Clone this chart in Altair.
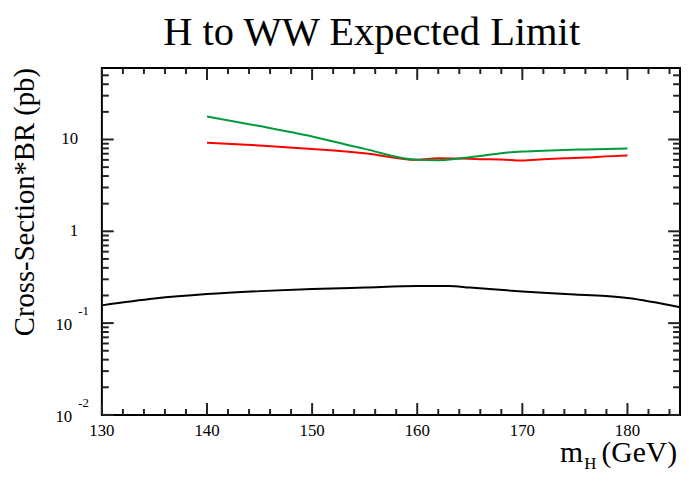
import altair as alt
import pandas as pd

# ---- data ----
mass_sm = [130, 135, 140, 145, 150, 155, 160, 163, 165, 170, 175, 180, 185]
xs_sm = [0.156, 0.185, 0.207, 0.223, 0.235, 0.244, 0.253, 0.254, 0.244, 0.221, 0.205, 0.188, 0.149]

mass_lim = [140, 145, 150, 155, 160, 162, 164, 166, 168, 170, 172, 174, 176, 178, 180]
lim_red = [9.2, 8.6, 7.9, 7.1, 6.0, 6.25, 6.2, 6.1, 6.05, 5.9, 6.1, 6.25, 6.35, 6.55, 6.7]
lim_green = [17.8, 14.0, 10.8, 7.9, 6.0, 5.95, 6.2, 6.6, 7.1, 7.4, 7.55, 7.7, 7.8, 7.9, 8.0]

x_major = [130, 140, 150, 160, 170, 180]
x_minor = [132, 134, 136, 138, 142, 144, 146, 148, 152, 154, 156, 158,
           162, 164, 166, 168, 172, 174, 176, 178, 182, 184]
x_labels = ["130", "140", "150", "160", "170", "180"]

y_major = [0.01, 0.1, 1, 10]
y_minor = [0.02, 0.03, 0.04, 0.05, 0.06, 0.07, 0.08, 0.09,
           0.2, 0.3, 0.4, 0.5, 0.6, 0.7, 0.8, 0.9,
           2, 3, 4, 5, 6, 7, 8, 9,
           20, 30, 40, 50]
y_plain_vals = [1, 10]
y_plain_text = ["1", "10"]
y_pow_vals = [0.01, 0.1]
y_pow_base = ["10", "10"]
y_pow_exp = ["-2", "-1"]

title_text = ["H to WW Expected Limit"]
ytitle_text = ["Cross-Section*BR (pb)"]

# ---- layout ----
W, H = 585, 351
FONT = "Liberation Serif"
TICK_COLOR = "#222222"
TICK_W = 2
xs = alt.Scale(domain=[130, 185], nice=False, zero=False)
ys = alt.Scale(type="log", domain=[0.01, 60], nice=False)


def X(f):
    return alt.X(f, type="quantitative", scale=xs, axis=None)


def Y(f):
    return alt.Y(f, type="quantitative", scale=ys, axis=None)


df_sm = pd.DataFrame({"m": mass_sm, "xs": xs_sm})
df_lim = pd.DataFrame({"m": mass_lim, "red": lim_red, "green": lim_green})

line_sm = alt.Chart(df_sm).mark_line(color="black", strokeWidth=2, interpolate="monotone").encode(
    x=X("m"), y=Y("xs"))
line_red = alt.Chart(df_lim).mark_line(color="#ff0000", strokeWidth=2, interpolate="monotone").encode(
    x=X("m"), y=Y("red"))
line_green = alt.Chart(df_lim).mark_line(color="#00993d", strokeWidth=2, interpolate="monotone").encode(
    x=X("m"), y=Y("green"))

t1 = alt.Chart(pd.DataFrame({"xb1": x_major})).mark_rule(color=TICK_COLOR, strokeWidth=TICK_W).encode(
    x=X("xb1"), y=alt.value(H), y2=alt.value(H - 12))
t2 = alt.Chart(pd.DataFrame({"xb2": x_minor})).mark_rule(color=TICK_COLOR, strokeWidth=TICK_W).encode(
    x=X("xb2"), y=alt.value(H), y2=alt.value(H - 6))
t3 = alt.Chart(pd.DataFrame({"xt1": x_major})).mark_rule(color=TICK_COLOR, strokeWidth=TICK_W).encode(
    x=X("xt1"), y=alt.value(0), y2=alt.value(12))
t4 = alt.Chart(pd.DataFrame({"xt2": x_minor})).mark_rule(color=TICK_COLOR, strokeWidth=TICK_W).encode(
    x=X("xt2"), y=alt.value(0), y2=alt.value(6))
t5 = alt.Chart(pd.DataFrame({"yl1": y_major})).mark_rule(color=TICK_COLOR, strokeWidth=TICK_W).encode(
    y=Y("yl1"), x=alt.value(0), x2=alt.value(12))
t6 = alt.Chart(pd.DataFrame({"yl2": y_minor})).mark_rule(color=TICK_COLOR, strokeWidth=TICK_W).encode(
    y=Y("yl2"), x=alt.value(0), x2=alt.value(7))
t7 = alt.Chart(pd.DataFrame({"yr1": y_major})).mark_rule(color=TICK_COLOR, strokeWidth=TICK_W).encode(
    y=Y("yr1"), x=alt.value(W), x2=alt.value(W - 12))
t8 = alt.Chart(pd.DataFrame({"yr2": y_minor})).mark_rule(color=TICK_COLOR, strokeWidth=TICK_W).encode(
    y=Y("yr2"), x=alt.value(W), x2=alt.value(W - 7))

xlab = alt.Chart(pd.DataFrame({"v": x_major, "t": x_labels})).mark_text(
    font=FONT, fontSize=17, align="center", baseline="top").encode(
    x=X("v"), y=alt.value(H + 8), text="t:N")

ylab_plain = alt.Chart(pd.DataFrame({"v": y_plain_vals, "t": y_plain_text})).mark_text(
    font=FONT, fontSize=17, align="right", baseline="middle").encode(
    y=Y("v"), x=alt.value(-24), text="t:N")
ylab_base = alt.Chart(pd.DataFrame({"v": y_pow_vals, "t": y_pow_base})).mark_text(
    font=FONT, fontSize=17, align="right", baseline="middle", dy=2).encode(
    y=Y("v"), x=alt.value(-30), text="t:N")
ylab_exp = alt.Chart(pd.DataFrame({"v": y_pow_vals, "t": y_pow_exp})).mark_text(
    font=FONT, fontSize=13, align="left", baseline="middle", dy=-12).encode(
    y=Y("v"), x=alt.value(-24), text="t:N")

title = alt.Chart(pd.DataFrame({"t": title_text})).mark_text(
    font=FONT, fontSize=41, align="center", baseline="alphabetic").encode(
    x=alt.value(376 - 103), y=alt.value(43 - 66), text="t:N")

ytitle = alt.Chart(pd.DataFrame({"t": ytitle_text})).mark_text(
    font=FONT, fontSize=29, align="right", baseline="alphabetic", angle=270).encode(
    x=alt.value(34 - 103), y=alt.value(0), text="t:N")

xt_m = alt.Chart(pd.DataFrame({"t": ["m"]})).mark_text(
    font=FONT, fontSize=30, align="right", baseline="alphabetic").encode(
    x=alt.value(487), y=alt.value(399), text="t:N")
xt_h = alt.Chart(pd.DataFrame({"t": ["H"]})).mark_text(
    font=FONT, fontSize=17, align="left", baseline="alphabetic").encode(
    x=alt.value(488), y=alt.value(406), text="t:N")
xt_gev = alt.Chart(pd.DataFrame({"t": ["(GeV)"]})).mark_text(
    font=FONT, fontSize=30, align="right", baseline="alphabetic").encode(
    x=alt.value(582), y=alt.value(399), text="t:N")

chart = alt.layer(
    t1, t2, t3, t4, t5, t6, t7, t8,
    line_sm, line_red, line_green,
    xlab, ylab_plain, ylab_base, ylab_exp,
    title, ytitle, xt_m, xt_h, xt_gev,
).properties(
    width=W, height=H,
    autosize=alt.AutoSizeParams(type="none"),
    padding={"left": 95, "top": 58, "right": 1, "bottom": 56},
).configure_view(stroke="black", strokeWidth=2)

chart.save("out.html", embed_options={"renderer": "svg", "actions": False})
